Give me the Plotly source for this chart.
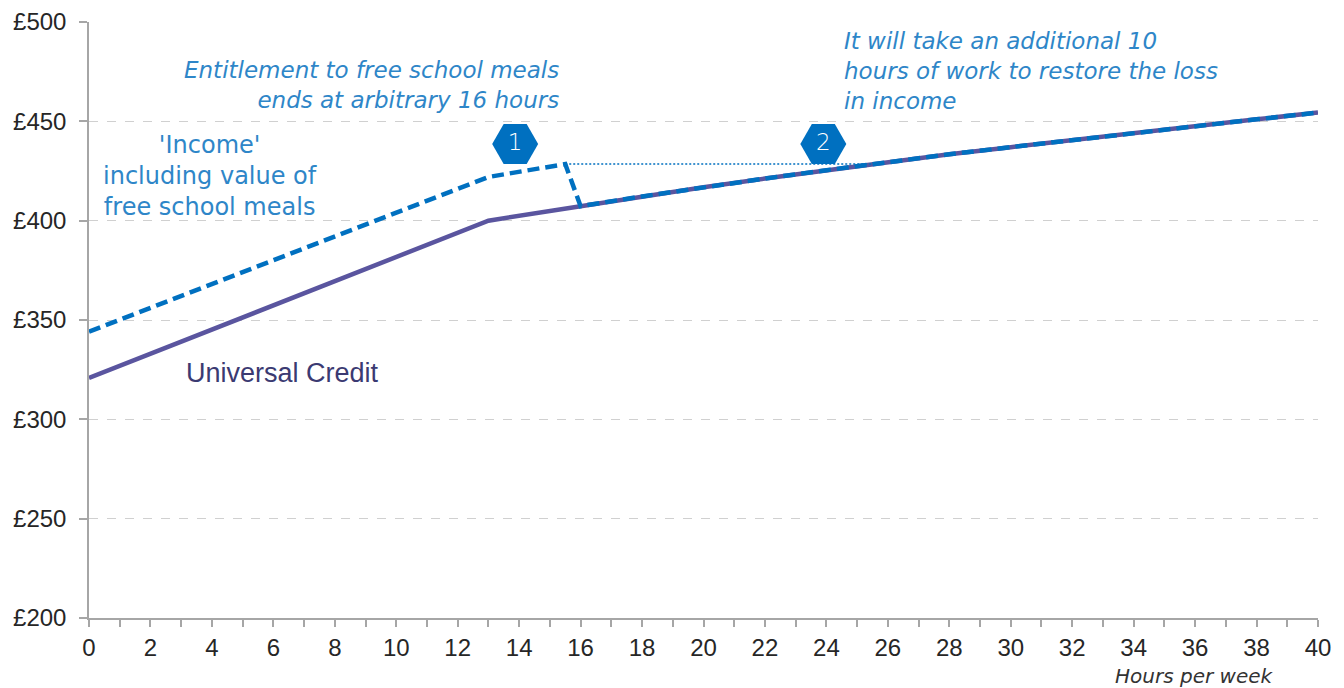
import plotly.graph_objects as go

# --- data ---
hours = [0, 13, 16, 18, 20, 22, 24, 26, 28, 30, 32, 34, 36, 38, 40]
universal_credit = [320.8, 400.0, 407.3, 412.2, 416.8, 421.2, 425.4, 429.6,
                    433.4, 437.0, 440.6, 444.2, 447.6, 451.0, 454.4]

# income incl. value of free school meals (drops at 16 hours, then follows UC)
fsm_hours = [0, 13, 15.5] + hours[2:]
fsm_income = [344.1, 422.0, 428.5] + universal_credit[2:]

# dotted line showing the level lost at the cut-off
gap_hours = [15.5, 25.5]
gap_level = [428.5, 428.5]

marker_hours = [13.87, 23.9]
marker_level = [438.6, 438.6]
marker_labels = ["1", "2"]

y_ticks = [200, 250, 300, 350, 400, 450, 500]
x_ticks = list(range(0, 41, 2))

BLUE = "#0070C0"
TEXT_BLUE = "#2E86C8"
PURPLE = "#5A559F"
AXIS = "#A6A6A6"
NOTE_FONT = "DejaVu Sans"

fig = go.Figure()

fig.add_trace(go.Scatter(
    x=hours, y=universal_credit, mode="lines",
    line=dict(color=PURPLE, width=4.5), hoverinfo="skip"
))

fig.add_trace(go.Scatter(
    x=fsm_hours, y=fsm_income, mode="lines",
    line=dict(color=BLUE, width=4.5, dash="12px,6px"), hoverinfo="skip"
))

fig.add_trace(go.Scatter(
    x=gap_hours, y=gap_level, mode="lines",
    line=dict(color=BLUE, width=1.5, dash="2px,2px"), hoverinfo="skip"
))

fig.add_trace(go.Scatter(
    x=marker_hours, y=marker_level, mode="markers+text",
    text=marker_labels, textposition="middle center",
    textfont=dict(family=NOTE_FONT, size=23, color="white", weight=300),
    marker=dict(symbol="hexagon2", size=46, color=BLUE, line=dict(width=0)),
    hoverinfo="skip"
))

ann_font = dict(family=NOTE_FONT, size=23, color=TEXT_BLUE)

fig.add_annotation(
    x=15.36, y=468.3, xref="x", yref="y", xanchor="right", yanchor="middle",
    align="right", showarrow=False,
    text="<i>Entitlement to free school meals<br>ends at arbitrary 16 hours</i>",
    font=ann_font
)
fig.add_annotation(
    x=24.5, y=475.3, xref="x", yref="y", xanchor="left", yanchor="middle",
    align="left", showarrow=False,
    text="<i>It will take an additional 10<br>hours of work to restore the loss<br>in income</i>",
    font=ann_font
)
fig.add_annotation(
    x=3.94, y=422.5, xref="x", yref="y", xanchor="center", yanchor="middle",
    align="center", showarrow=False,
    text="'Income'<br>including value of<br>free school meals",
    font=dict(family=NOTE_FONT, size=24, color=TEXT_BLUE)
)
fig.add_annotation(
    x=3.09, y=323.3, xref="x", yref="y", xanchor="left", yanchor="middle",
    showarrow=False, text="Universal Credit",
    font=dict(family="Liberation Sans", size=27, color="#3B3A72")
)
fig.add_annotation(
    x=38.6, y=-0.097, xref="x", yref="paper", xanchor="right", yanchor="middle",
    showarrow=False, text="<i>Hours per week</i>",
    font=dict(family=NOTE_FONT, size=20, color="#333333", weight=300)
)

fig.update_xaxes(
    range=[0, 40], tickvals=x_ticks, showgrid=False, zeroline=False,
    showline=True, linecolor=AXIS, linewidth=1.5, automargin=False,
    ticks="outside", ticklen=7, tickcolor=AXIS, tickwidth=1.5,
    minor=dict(dtick=1, ticks="outside", ticklen=7, tickcolor=AXIS, tickwidth=1.5),
    tickfont=dict(family="Liberation Sans", size=24, color="#262626")
)
fig.update_yaxes(
    range=[200, 500], tickvals=y_ticks, ticktext=["£%d" % v for v in y_ticks],
    showgrid=True, gridcolor="#D0D0D0", griddash="dash", gridwidth=1.2,
    zeroline=False, showline=True, linecolor=AXIS, linewidth=1.5, automargin=False,
    ticks="outside", ticklen=8, tickcolor=AXIS, tickwidth=1.5, ticklabelstandoff=8,
    tickfont=dict(family="Liberation Sans", size=24, color="#262626")
)

# the page body adds an 8px margin, so the figure is sized to sit inside it
fig.update_layout(
    width=1336, height=680,
    margin=dict(l=81, r=26, t=14, b=70),
    plot_bgcolor="white", paper_bgcolor="white",
    showlegend=False
)

fig.write_html("out.html")
